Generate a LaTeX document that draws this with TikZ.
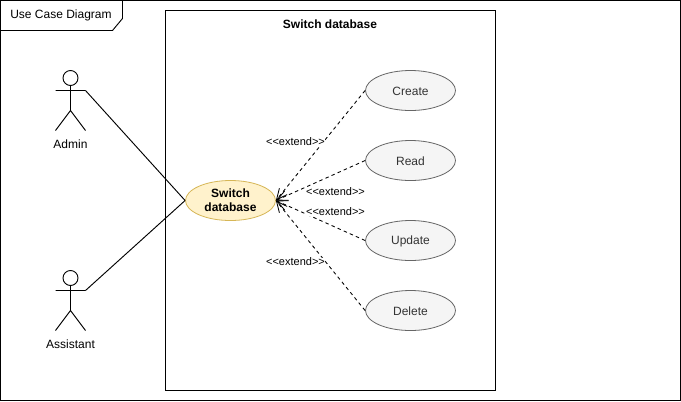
\documentclass[tikz,border=0pt]{standalone}
\usepackage{fontspec}
\setmainfont{Liberation Sans}
\usetikzlibrary{arrows.meta,shapes.geometric}
\definecolor{ucfill}{HTML}{F5F5F5}
\definecolor{ucline}{HTML}{666666}
\definecolor{ucyf}{HTML}{FFF2CC}
\definecolor{ucyl}{HTML}{D6B656}
\definecolor{uctext}{HTML}{333333}
\tikzset{x=0.75pt,y=-0.75pt,
 uc/.style={ellipse,draw=ucline,fill=ucfill,text=uctext,minimum width=67.5pt,minimum height=30pt,inner sep=0pt,font=\fontsize{9}{10.5}\selectfont,line width=0.6pt},
 ucmain/.style={ellipse,draw=ucyl,fill=ucyf,text=black,minimum width=67.5pt,minimum height=30pt,inner sep=0pt,align=center,font=\bfseries\fontsize{9}{10.8}\selectfont,line width=0.6pt},
 lbl/.style={font=\fontsize{8.25}{10}\selectfont,inner sep=0pt,text=black},
 actorlbl/.style={font=\fontsize{9}{10.5}\selectfont,inner sep=0pt},
 ext/.style={draw=black,dash pattern=on 2.6pt off 2.4pt,line width=0.65pt,-{Straight Barb[length=8pt,width=7.5pt,line width=0.65pt]}},
 thin0/.style={draw=black,line width=0.7pt}}
\newcommand{\actorfig}[3]{%
 \draw[thin0,fill=white] (#1,#2-12.5) circle[radius=7.5];
 \draw[thin0] (#1,#2-5)--(#1,#2+20) (#1-15,#2+0)--(#1+15,#2+0) (#1,#2+20)--(#1-15,#2+40) (#1,#2+20)--(#1+15,#2+40);
 \coordinate (#3) at (#1+15,#2);
}
\newcommand{\lowtext}[1]{\raisebox{-0.75pt}[\height][\depth]{#1}}
\begin{document}
\begin{tikzpicture}
\useasboundingbox (0,0) rectangle (681,401);
\draw[thin0,fill=white] (0.5,0.5) rectangle (680.5,400.5);
\draw[thin0,fill=white] (165.5,10.5) rectangle (495.5,390.5);
\draw[thin0,fill=white] (0.5,0.5) -- (122.5,0.5) -- (122.5,18.5) -- (112.5,30.5) -- (0.5,30.5) -- cycle;
\node[actorlbl,anchor=center] (title) at (61,15.5) {Use Case Diagram};
\node[font=\bfseries\fontsize{9}{10.5}\selectfont,inner sep=0pt] (sysname) at (330,24) {Switch database};
\actorfig{70.5}{90.5}{adminhand}
\actorfig{70.5}{290.5}{assisthand}
\node[actorlbl] (adminl) at (70.5,144) {Admin};
\node[actorlbl] (assistl) at (70.5,344) {Assistant};
\node[ucmain] (main) at (230.5,200.5) {Switch\\database};
\node[uc] (create) at (410.5,90.5) {\lowtext{Create}};
\node[uc] (read) at (410.5,160.5) {\lowtext{Read}};
\node[uc] (update) at (410.5,240.5) {\lowtext{Update}};
\node[uc] (delete) at (410.5,310.5) {\lowtext{Delete}};
\draw[thin0] (adminhand) -- (main.west);
\draw[thin0] (assisthand) -- (main.west);
\draw[ext] (create.west) -- (main.east);
\draw[ext] (read.west) -- (main.east);
\draw[ext] (update.west) -- (main.east);
\draw[ext] (delete.west) -- (main.east);
\node[lbl,fill=white] (l1) at (295.5,141.8) {<{}<extend>{}>};
\node[lbl,fill=white] (l2) at (335.5,191.8) {<{}<extend>{}>};
\node[lbl,fill=white] (l3) at (335.5,211.8) {<{}<extend>{}>};
\node[lbl,fill=white] (l4) at (295.5,261.8) {<{}<extend>{}>};
\end{tikzpicture}
\end{document}
